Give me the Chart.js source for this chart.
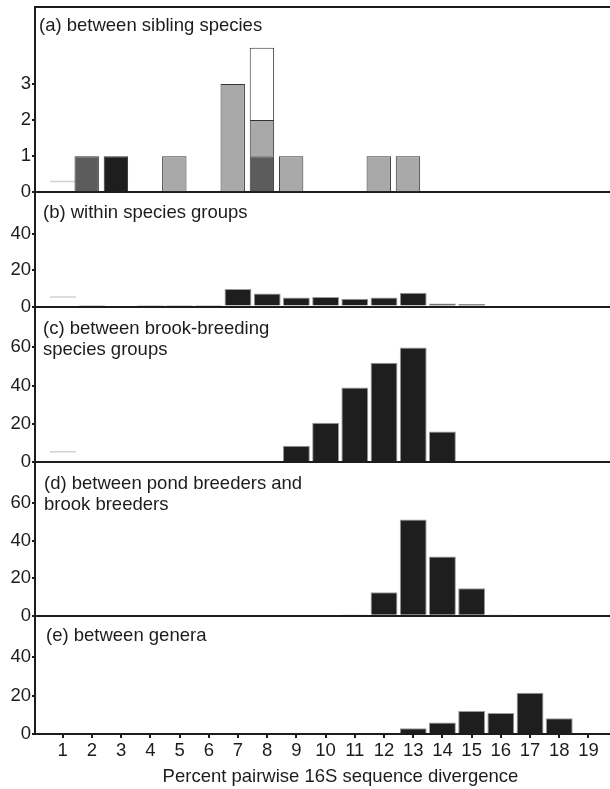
<!DOCTYPE html>
<html>
<head>
<meta charset="utf-8">
<title>Percent pairwise 16S sequence divergence</title>
<script src="https://cdn.jsdelivr.net/npm/chart.js"></script>
<style>
  html, body { margin: 0; padding: 0; background: #fff; overflow: hidden; }
  /* the original figure runs on past the right edge of the picture */
  #wrap { width: 646px; height: 789px; position: relative; }
</style>
</head>
<body>
<div id="wrap"><canvas id="hist"></canvas></div>
<script>
// percent divergence classes (x axis)
const divergence = [1, 2, 3, 4, 5, 6, 7, 8, 9, 10, 11, 12, 13, 14, 15, 16, 17, 18, 19];

// (a) between sibling species - stacked by shade
const siblingDark  = [null, 1, null, null, null, null, null, 1, null, null, null, null, null, null, null, null, null, null, null];
const siblingBlack = [null, null, 1, null, null, null, null, null, null, null, null, null, null, null, null, null, null, null, null];
const siblingLight = [null, null, null, null, 1, null, 3, 1, 1, null, null, 1, 1, null, null, null, null, null, null];
const siblingWhite = [null, null, null, null, null, null, null, 2, null, null, null, null, null, null, null, null, null, null, null];

// (b) - (e)
const withinGroups = [null, 0.3, 0.6, 0.3, 0.3, 0.3, 9.6, 7.1, 5, 5.2, 4.3, 5, 7.5, 1.6, 1.4, null, null, null, null];
const brookGroups  = [null, null, null, null, null, null, null, null, 8.5, 20.5, 39, 52, 60, 16, null, null, null, null, null];
const pondVsBrook  = [null, null, null, null, null, null, null, null, null, null, 0.4, 12.6, 51.3, 31.6, 14.7, 0.2, null, null, null];
const genera       = [null, null, null, null, null, null, null, null, null, null, null, null, 3, 6, 12, 11, 21.5, 8.2, null];

// little grey stubs left of the first class in panels a-c
const stubValues = [0.3, 5.2, 5.4];

const panelTitles = [
  ['(a) between sibling species'],
  ['(b) within species groups'],
  ['(c) between brook-breeding', 'species groups'],
  ['(d) between pond breeders and', 'brook breeders'],
  ['(e) between genera']
];
const yTicks = [[0, 1, 2, 3], [0, 20, 40], [0, 20, 40, 60], [0, 20, 40, 60], [0, 20, 40]];

// layout
const panelIds = ['ya', 'yb', 'yc', 'yd', 'ye'];
const panelHeights = [185.2, 114.2, 155.4, 153.8, 118.1];
const yMax = [5.13, 62.7, 81.4, 81.9, 61.6];
const titleX = [39, 43, 43, 44, 46];
const titleDy = [18.5, 20.5, 22, 21.7, 20];
const ink = '#1c1c1c';
const fontFamily = '"Liberation Sans", Arial, Helvetica, sans-serif';

Chart.defaults.font.family = fontFamily;
Chart.defaults.color = ink;

const scales = {
  x: {
    type: 'linear', position: 'bottom', min: 0.05, max: 20.97, stacked: true, offset: false,
    afterBuildTicks: s => { s.ticks = divergence.map(v => ({ value: v })); },
    afterFit: s => { s.height = 55; s.paddingLeft = 0; s.paddingRight = 0; },
    grid: { drawOnChartArea: false, offset: false, color: ink, lineWidth: 2, tickLength: 4 },
    border: { color: ink, width: 2 },
    ticks: { color: ink, font: { size: 18.5 }, padding: 2, maxRotation: 0, autoSkip: false },
    title: {
      display: true, text: 'Percent pairwise 16S sequence divergence', color: ink,
      font: { size: 18.5 }, padding: { top: 0, bottom: 1 }
    }
  },
  // panel (a) bars sit a little left of the tick marks
  xa: {
    type: 'linear', position: 'top', min: 0.23, max: 21.15, stacked: true, offset: false,
    afterFit: s => { s.height = 0; s.paddingLeft = 0; s.paddingRight = 0; },
    grid: { display: false, drawTicks: false, offset: false },
    ticks: { display: false },
    border: { display: true, color: ink, width: 2 }
  }
};

// stacked axes are placed bottom-up, so add them from (e) to (a)
for (let i = panelIds.length - 1; i >= 0; i--) {
  scales[panelIds[i]] = {
    type: 'linear', position: 'left', stack: 'panels', stackWeight: panelHeights[i],
    min: 0, max: yMax[i], stacked: i === 0,
    afterBuildTicks: s => { s.ticks = yTicks[i].map(v => ({ value: v })); },
    afterFit: s => { s.width = 35; s.paddingTop = 0; s.paddingBottom = 0; },
    grid: {
      color: c => (c.tick && c.tick.value === 0) ? ink : 'rgba(0,0,0,0)',
      tickColor: ink, lineWidth: 2, tickLength: 3
    },
    border: { color: ink, width: 2 },
    ticks: { color: ink, font: { size: 18.5 }, padding: 1 }
  };
}

function siblingSet(data, fill) {
  return {
    data: data, xAxisID: 'xa', yAxisID: 'ya', grouped: false,
    backgroundColor: fill, borderColor: '#333', borderWidth: 1,
    barPercentage: 0.835, categoryPercentage: 1
  };
}
function blackSet(data, yId) {
  return {
    data: data, xAxisID: 'x', yAxisID: yId, grouped: false,
    backgroundColor: '#1e1e1e', borderColor: '#9a9a9a', borderWidth: 1,
    barPercentage: 0.92, categoryPercentage: 1
  };
}
const stubSets = stubValues.map((v, i) => ({
  type: 'line', stack: 'stub', xAxisID: 'x', yAxisID: panelIds[i],
  data: [{ x: 0.565, y: v }, { x: 1.455, y: v }],
  borderColor: '#d2d2d2', borderWidth: 1.5, pointRadius: 0
}));

const panelLabels = {
  id: 'panelLabels',
  afterDraw(chart) {
    const ctx = chart.ctx;
    ctx.save();
    ctx.fillStyle = ink;
    ctx.font = '18.5px ' + fontFamily;
    ctx.textBaseline = 'middle';
    panelIds.forEach((id, i) => {
      const s = chart.scales[id];
      panelTitles[i].forEach((line, j) => {
        ctx.fillText(line, titleX[i], s.top + titleDy[i] + j * 21);
      });
    });
    ctx.restore();
  }
};

new Chart(document.getElementById('hist'), {
  type: 'bar',
  data: {
    labels: divergence,
    datasets: [
      siblingSet(siblingDark, '#5c5c5c'),
      siblingSet(siblingBlack, '#1e1e1e'),
      siblingSet(siblingLight, '#a9a9a9'),
      siblingSet(siblingWhite, '#ffffff'),
      blackSet(withinGroups, 'yb'),
      blackSet(brookGroups, 'yc'),
      blackSet(pondVsBrook, 'yd'),
      blackSet(genera, 'ye')
    ].concat(stubSets)
  },
  options: {
    responsive: true,
    maintainAspectRatio: false,
    animation: false,
    layout: { padding: { top: 7, left: 0, right: 0, bottom: 0 } },
    plugins: { legend: { display: false }, tooltip: { enabled: false } },
    scales: scales
  },
  plugins: [panelLabels]
});
</script>
</body>
</html>
